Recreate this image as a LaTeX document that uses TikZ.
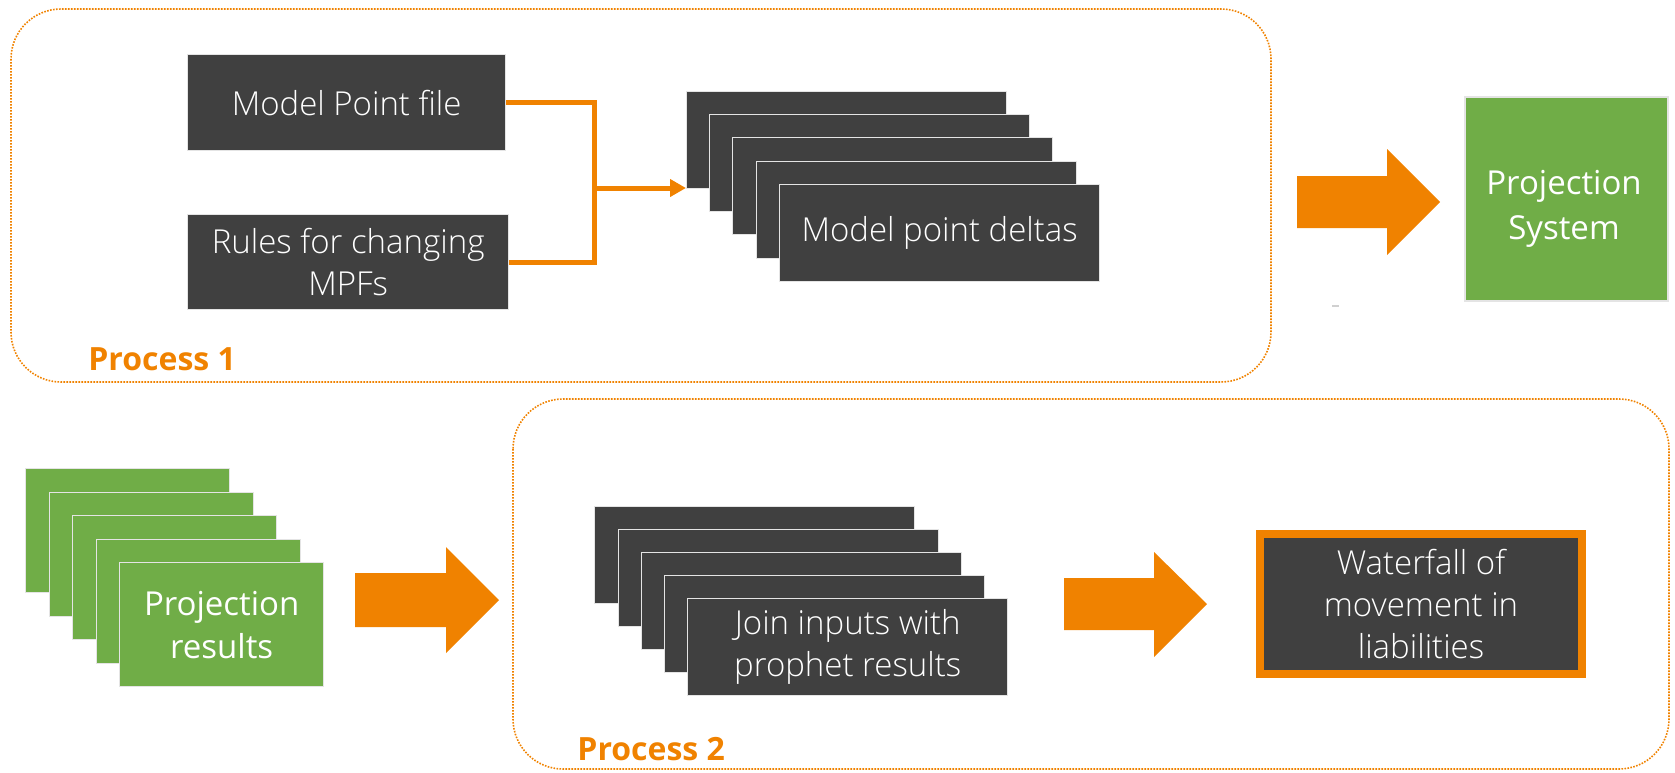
\documentclass[tikz,border=0pt]{standalone}
\usepackage{fontspec}
\setmainfont{Open Sans}
\newfontfamily\lightfont{Open Sans Light}
\usetikzlibrary{arrows.meta}
\definecolor{dk}{RGB}{64,64,64}
\definecolor{gr}{RGB}{112,173,71}
\definecolor{org}{RGB}{240,130,0}
\definecolor{bd}{RGB}{228,228,228}
\begin{document}
\begin{tikzpicture}[x=0.5pt,y=-0.5pt,
  boxtext/.style={text=white, font=\fontsize{16.5}{21}\selectfont, align=center, inner sep=0pt},
  dkbox/.style={boxtext, font=\lightfont\fontsize{16.5}{21}\selectfont, fill=dk, draw=bd, line width=0.7pt},
  grbox/.style={boxtext, fill=gr, draw=bd, line width=0.7pt},
  stackbox/.style={anchor=north west, minimum width=160pt, minimum height=48.5pt},
  grstack/.style={anchor=north west, minimum width=102pt, minimum height=62pt},
  procbox/.style={draw=org, line width=0.8pt, dash pattern=on 0.8pt off 0.7pt, rounded corners=25pt},
  proclabel/.style={text=org, font=\fontsize{16}{19}\selectfont\bfseries, anchor=base west, inner sep=0pt},
  conn/.style={draw=org, line width=2.5pt},
  blockarrow/.style={fill=org}
]
\useasboundingbox (0,0) rectangle (1675,772);

% process containers
\draw[procbox] (11,9) rectangle (1271,382);
\draw[procbox] (513,399) rectangle (1669,769);
\node[proclabel] (p1lab) at (88,370) {Process 1};
\node[proclabel] (p2lab) at (577,760) {Process 2};

% Process 1 inputs
\node[dkbox, anchor=north west, minimum width=159pt, minimum height=48pt] (mpf) at (187,54) {Model Point file};
\node[dkbox, anchor=north west, minimum width=160.5pt, minimum height=47.5pt] (rules) at (187,214) {Rules for changing\\MPFs};

% Model point deltas stack
\node[dkbox, stackbox] (d1) at (686,91) {};
\node[dkbox, stackbox] (d2) at (709,114) {};
\node[dkbox, stackbox] (d3) at (732,137) {};
\node[dkbox, stackbox] (d4) at (756,161) {};
\node[dkbox, stackbox] (d5) at (779,184) {Model point deltas};

% connectors
\coordinate (j) at (594,188);
\draw[conn] (mpf.east) -| (j);
\draw[conn] (rules.east) -| (j);
\draw[conn, -{Triangle[length=8pt,width=8.5pt]}] (j) -- (j -| d1.west);

% block arrow 1
\fill[blockarrow] (1297,176) -- (1387,176) -- (1387,149) -- (1440,202) -- (1387,255) -- (1387,228) -- (1297,228) -- cycle;

% Projection System
\node[grbox, minimum width=101.5pt, minimum height=102pt] (ps) at (1566.5,199) {};
\node[boxtext, font=\fontsize{16.5}{22.5}\selectfont] (pstext) at (1564,209) {Projection\\System};
\draw[bd!80!gray, line width=0.8pt] (1332,306) -- (1339,306);

% Projection results stack
\node[grbox, grstack] (g1) at (25,468) {};
\node[grbox, grstack] (g2) at (48.5,491.5) {};
\node[grbox, grstack] (g3) at (72,515) {};
\node[grbox, grstack] (g4) at (95.5,538.5) {};
\node[grbox, grstack, font=\fontsize{16.5}{21.5}\selectfont] (g5) at (119,562) {Projection\\results};

% block arrow 2
\fill[blockarrow] (355,573) -- (446,573) -- (446,547) -- (499,600) -- (446,653) -- (446,627) -- (355,627) -- cycle;

% Join stack
\node[dkbox, stackbox] (j1) at (594,506) {};
\node[dkbox, stackbox] (j2) at (618,529) {};
\node[dkbox, stackbox] (j3) at (641,552) {};
\node[dkbox, stackbox] (j4) at (664,575) {};
\node[dkbox, stackbox] (j5) at (687,598) {Join inputs with\\prophet results};

% block arrow 3
\fill[blockarrow] (1064,578) -- (1154,578) -- (1154,552) -- (1207,604) -- (1154,657) -- (1154,630) -- (1064,630) -- cycle;

% Waterfall
\node[boxtext, font=\lightfont\fontsize{16.5}{21}\selectfont, fill=dk, draw=org, line width=4pt, minimum width=161pt, minimum height=70pt] (wf) at (1421,604) {Waterfall of\\movement in\\liabilities};
\end{tikzpicture}
\end{document}
